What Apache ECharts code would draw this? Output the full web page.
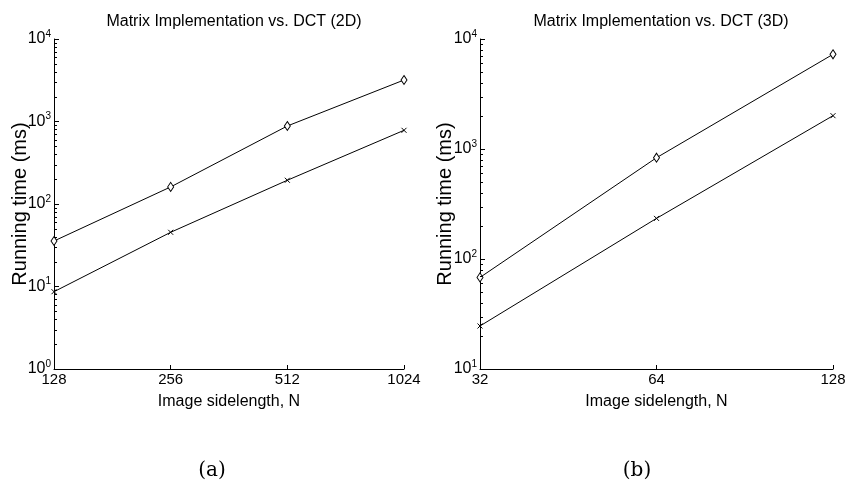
<!DOCTYPE html>
<html><head><meta charset="utf-8">
<script src="https://cdn.jsdelivr.net/npm/echarts@6/dist/echarts.min.js"></script>
<style>html,body{margin:0;padding:0;background:#fff}#c{width:852px;height:491px}</style>
</head><body><div id="c"></div>
<script>
const N2D = [128, 256, 512, 1024];
const matrix2D = [35.6, 161, 882, 3184];
const dct2D = [8.65, 45.4, 194, 782];
const N3D = [32, 64, 128];
const matrix3D = [68, 833, 7260];
const dct3D = [24.6, 234, 2009];
const xRange2D = [128, 1024];
const xRange3D = [32, 128];
const yRange2D = [1, 10000];
const yRange3D = [10, 10000];
const minorMult = [2, 3, 4, 5, 6, 7, 8, 9];
const titles = ['Matrix Implementation vs. DCT (2D)', 'Matrix Implementation vs. DCT (3D)'];
const captions = ['(a)', '(b)'];
const xName = 'Image sidelength, N';
const yName = 'Running time (ms)';

const chart = echarts.init(document.getElementById('c'));
const font = 'Liberation Sans, Arial, Helvetica, sans-serif';
const crossPath = 'path://M0,0L10,10M10,0L0,10';

function minorValues(yr) {
  const out = [];
  for (let d = yr[0]; d < yr[1]; d *= 10) minorMult.forEach(m => out.push(d * m));
  return out;
}

function yAxis(gi, yr, gap) {
  return {
    type: 'log', logBase: 10, gridIndex: gi, min: yr[0], max: yr[1],
    name: yName, nameLocation: 'middle', nameGap: gap, nameMoveOverlap: false,
    nameTextStyle: { fontFamily: font, fontSize: 20, color: '#000' },
    axisLine: { show: true, lineStyle: { color: '#000', width: 1 } },
    axisTick: { show: true, inside: true, length: 5, lineStyle: { color: '#000' } },
    minorTick: { show: false },
    splitLine: { show: false },
    axisLabel: {
      margin: 3, color: '#000', fontFamily: font,
      formatter: v => '{b|10}{s|' + Math.round(Math.log10(v)) + '}',
      rich: { b: { fontSize: 16, fontFamily: font, color: '#000' }, s: { fontSize: 10, fontFamily: font, color: '#000', padding: [0, 0, 10, 0] } }
    }
  };
}
function xAxis(gi, xr) {
  return {
    type: 'log', logBase: 2, gridIndex: gi, min: xr[0], max: xr[1],
    name: xName, nameLocation: 'middle', nameGap: 25, nameMoveOverlap: false,
    nameTextStyle: { fontFamily: font, fontSize: 16, color: '#000' },
    axisLine: { show: true, lineStyle: { color: '#000', width: 1 } },
    axisTick: { show: true, inside: true, length: 4, lineStyle: { color: '#000' } },
    splitLine: { show: false },
    axisLabel: { margin: 3, color: '#000', fontFamily: font, fontSize: 15, formatter: v => String(Math.round(v)) }
  };
}
function line(xi, xs, ys, sym, size) {
  return {
    type: 'line', xAxisIndex: xi, yAxisIndex: xi,
    data: xs.map((x, i) => [x, ys[i]]),
    symbol: sym, symbolSize: size, showSymbol: true,
    lineStyle: { color: '#000', width: 1 },
    itemStyle: { color: '#fff', borderColor: '#000', borderWidth: 1 },
    animation: false, silent: true, z: 3
  };
}
function minorTicks(xi, xr, yr) {
  return {
    type: 'custom', xAxisIndex: xi, yAxisIndex: xi, silent: true, animation: false, clip: false, z: 4,
    data: minorValues(yr).map(v => [xr[0], v]),
    renderItem: (params, api) => {
      const p = api.coord([api.value(0), api.value(1)]);
      const x = Math.round(p[0]), y = Math.round(p[1]) + 0.5;
      return { type: 'line', shape: { x1: x, y1: y, x2: x + 3, y2: y }, style: { stroke: '#000', lineWidth: 1 } };
    }
  };
}

chart.setOption({
  backgroundColor: '#fff',
  animation: false,
  title: [
    { text: titles[0], left: 229, top: 9, textAlign: 'center', textStyle: { fontFamily: font, fontSize: 16, fontWeight: 'normal', color: '#000' } },
    { text: titles[1], left: 656, top: 9, textAlign: 'center', textStyle: { fontFamily: font, fontSize: 16, fontWeight: 'normal', color: '#000' } },
    { text: captions[0], left: 207, top: 456, textAlign: 'center', textStyle: { fontFamily: 'DejaVu Serif, serif', fontSize: 20, fontWeight: 'normal', color: '#000' } },
    { text: captions[1], left: 632, top: 456, textAlign: 'center', textStyle: { fontFamily: 'DejaVu Serif, serif', fontSize: 20, fontWeight: 'normal', color: '#000' } }
  ],
  grid: [
    { left: 54, top: 39, width: 350, height: 330 },
    { left: 480, top: 39, width: 353, height: 330 }
  ],
  xAxis: [xAxis(0, xRange2D), xAxis(1, xRange3D)],
  yAxis: [yAxis(0, yRange2D, 24), yAxis(1, yRange3D, 25)],
  series: [
    minorTicks(0, xRange2D, yRange2D),
    minorTicks(1, xRange3D, yRange3D),
    line(0, N2D, matrix2D, 'diamond', [6, 9]),
    line(0, N2D, dct2D, crossPath, 5),
    line(1, N3D, matrix3D, 'diamond', [6, 9]),
    line(1, N3D, dct3D, crossPath, 5)
  ]
});
</script></body></html>
